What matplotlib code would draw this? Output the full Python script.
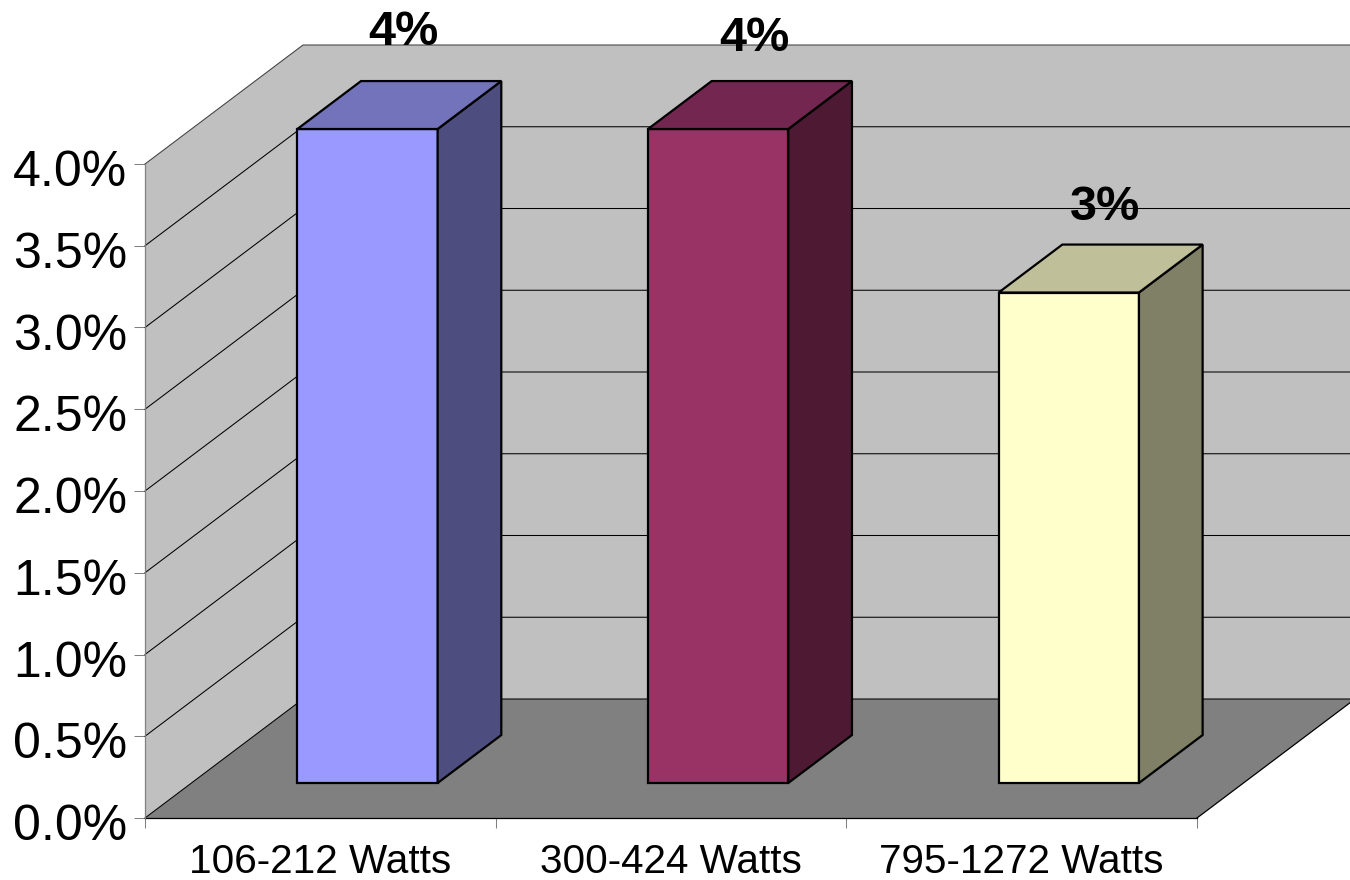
import matplotlib
matplotlib.use("Agg")
import matplotlib.pyplot as plt
from matplotlib.patches import Polygon
from matplotlib.transforms import ScaledTranslation

plt.rcParams['font.family'] = ['Liberation Sans', 'DejaVu Sans']

categories = ["106-212 Watts", "300-424 Watts", "795-1272 Watts"]
values = [4.0, 4.0, 3.0]
value_labels = ["4%", "4%", "3%"]
y_ticks = [0.0, 0.5, 1.0, 1.5, 2.0, 2.5, 3.0, 3.5, 4.0]
y_tick_labels = ["0.0%", "0.5%", "1.0%", "1.5%", "2.0%", "2.5%", "3.0%", "3.5%", "4.0%"]
front_colors = ["#9999FF", "#993366", "#FFFFCC"]
side_colors = ["#4D4D7F", "#4D1933", "#808066"]
top_colors = ["#7373BB", "#732650", "#BFBF99"]
label_offsets_px = [(37, 84), (37, 78), (37, 73)]

W, H = 1350, 880
L, R, B, T = 145, 1197, 818, 164
fig = plt.figure(figsize=(W / 100, H / 100), dpi=100, facecolor="white")
ax = fig.add_axes([L / W, 1 - B / H, (R - L) / W, (B - T) / H])
ax.set_xlim(0, 3)
ax.set_ylim(0, 4)
ax.patch.set_visible(False)
for s in ax.spines.values():
    s.set_visible(False)

px_x = (R - L) / 3
px_y = (B - T) / 4
DEPTH_X = 158 / px_x
DEPTH_Y = 119 / px_y
BAR_WIDTH = 0.4
BAR_START = 0.294
BAR_DEPTH = 0.403
BAR_SHIFT = 0.002
GREY = "#808080"


def P(x, y, d=0.0):
    return (x + d * DEPTH_X, y + d * DEPTH_Y)


def poly(points, fc, ec="none", lw=0.0, z=1):
    ax.add_patch(Polygon(points, closed=True, fc=fc, ec=ec, lw=lw, zorder=z,
                         clip_on=False, joinstyle="miter"))


# walls and floor
poly([P(0, 0), P(0, 4), P(0, 4, 1), P(0, 0, 1)], "#C0C0C0", z=1)
poly([P(0, 4, 1), P(3, 4, 1), P(3, 0, 1), P(0, 0, 1)], "#C0C0C0", z=1)
poly([P(0, 0), P(3, 0), P(3, 0, 1), P(0, 0, 1)], "#808080", z=1)

# gridlines
for v in y_ticks:
    xs, ys = zip(P(0, v), P(0, v, 1), P(3, v, 1))
    ax.plot(xs, ys, color="black" if v < 4 else "#404040", lw=0.75, zorder=2,
            clip_on=False, solid_joinstyle="miter")

# floor edges
for a, b, c in [(P(0, 0), P(3, 0), "black"), (P(3, 0), P(3, 0, 1), "black")]:
    ax.plot([a[0], b[0]], [a[1], b[1]], color=c, lw=0.9, zorder=3, clip_on=False)
ax.plot([0, 0], [0, 4], color=GREY, lw=0.9, zorder=3, clip_on=False)

# bars
for i, v in enumerate(values):
    x0 = i + 0.5 - BAR_WIDTH / 2 + BAR_SHIFT
    x1 = i + 0.5 + BAR_WIDTH / 2 + BAR_SHIFT
    d0 = BAR_START
    d1 = BAR_START + BAR_DEPTH
    kw = dict(ec="black", lw=1.6, z=5)
    poly([P(x0, 0, d0), P(x1, 0, d0), P(x1, v, d0), P(x0, v, d0)], front_colors[i], **kw)
    poly([P(x1, 0, d0), P(x1, 0, d1), P(x1, v, d1), P(x1, v, d0)], side_colors[i], **kw)
    poly([P(x0, v, d0), P(x1, v, d0), P(x1, v, d1), P(x0, v, d1)], top_colors[i], **kw)
    dx, dy = label_offsets_px[i]
    ax.annotate(value_labels[i], xy=P(i + 0.5, v, d0), xytext=(dx * 0.72, dy * 0.72),
                textcoords="offset points", ha="center", va="baseline",
                fontsize=35, fontweight="bold", color="black", zorder=6,
                annotation_clip=False)

# axes ticks
ax.set_yticks(y_ticks)
ax.set_yticklabels(y_tick_labels, fontsize=36)
ax.set_xticks([0, 1, 2, 3])
ax.set_xticklabels([])
ax.set_xticks([0.5, 1.5, 2.5], minor=True)
ax.set_xticklabels(categories, minor=True, fontsize=29.2)
ax.tick_params(axis="y", length=11 * 0.72, width=0.75, color=GREY, pad=5)
ax.tick_params(axis="x", which="major", length=10 * 0.72, width=0.75, color=GREY)
ax.tick_params(axis="x", which="minor", length=0, pad=18)
shift = ScaledTranslation(0, -4 / 100, fig.dpi_scale_trans)
for lab in ax.get_yticklabels():
    lab.set_transform(lab.get_transform() + shift)

fig.savefig("out.png", dpi=100, facecolor="white")
